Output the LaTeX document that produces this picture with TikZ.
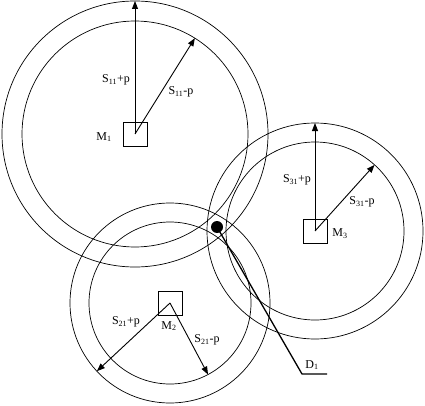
\documentclass[tikz,border=0pt]{standalone}
\usepackage{fontspec}
\setmainfont{Liberation Serif}
\usetikzlibrary{arrows.meta,calc}
\tikzset{
    every node/.style={font=\fontsize{12}{14}\selectfont, inner sep=1pt}
}
\tikzset{
    station/.style={draw, rectangle, minimum size=24pt, inner sep=0pt},
    radius arrow/.style={-{Triangle[length=8pt,width=6pt]}, line width=0.9pt}
}

\begin{document}
\begin{tikzpicture}[x=1pt, y=1pt, line width=0.7pt]
	\useasboundingbox (0,0) rectangle (425,405);
	\node [station] (M1) at (135,271) {};
	\node [station] (M2) at (170,102) {};
	\node [station] (M3) at (315,174) {};
	% outer and inner rings
	\draw (M1.center) circle (133); \draw (M1.center) circle (113);
	\draw (M2.center) circle (100); \draw (M2.center) circle (81);
	\draw (M3.center) circle (108); \draw (M3.center) circle (89);
	\coordinate (p11) at ($(M1.center)+(90:133)$);
	\coordinate (m11) at ($(M1.center)+(58:113)$);
	\coordinate (p21) at ($(M2.center)+(223:100)$);
	\coordinate (m21) at ($(M2.center)+(298:81)$);
	\coordinate (p31) at ($(M3.center)+(90:108)$);
	\coordinate (m31) at ($(M3.center)+(48:89)$);
	\draw [radius arrow] (M1.center) -- (p11); \draw [radius arrow] (M1.center) -- (m11);
	\draw [radius arrow] (M2.center) -- (p21); \draw [radius arrow] (M2.center) -- (m21);
	\draw [radius arrow] (M3.center) -- (p31); \draw [radius arrow] (M3.center) -- (m31);
	\node (lM1) at (104,268) {M\textsubscript{1}};
	\node (lM2) at (169,79) {M\textsubscript{2}};
	\node (lM3) at (340,171) {M\textsubscript{3}};
	\node (l11a) at (116,325) {S\textsubscript{11}+p};
	\node (l11b) at (181,313) {S\textsubscript{11}-p};
	\node (l21a) at (126,83) {S\textsubscript{21}+p};
	\node (l21b) at (207,65) {S\textsubscript{21}-p};
	\node (l31a) at (297,225) {S\textsubscript{31}+p};
	\node (l31b) at (362,203) {S\textsubscript{31}-p};
	% detected point
	\node [circle, fill, minimum size=12pt, inner sep=0pt] (X) at (217,178) {};
	\coordinate (D1c) at (302,31);
	\coordinate (D1e) at (327,31);
	\draw [line width=1.3pt] (X.center) -- (D1c) -- (D1e);
	\node (D1) at (312,40) {D\textsubscript{1}};
\end{tikzpicture}
\end{document}
